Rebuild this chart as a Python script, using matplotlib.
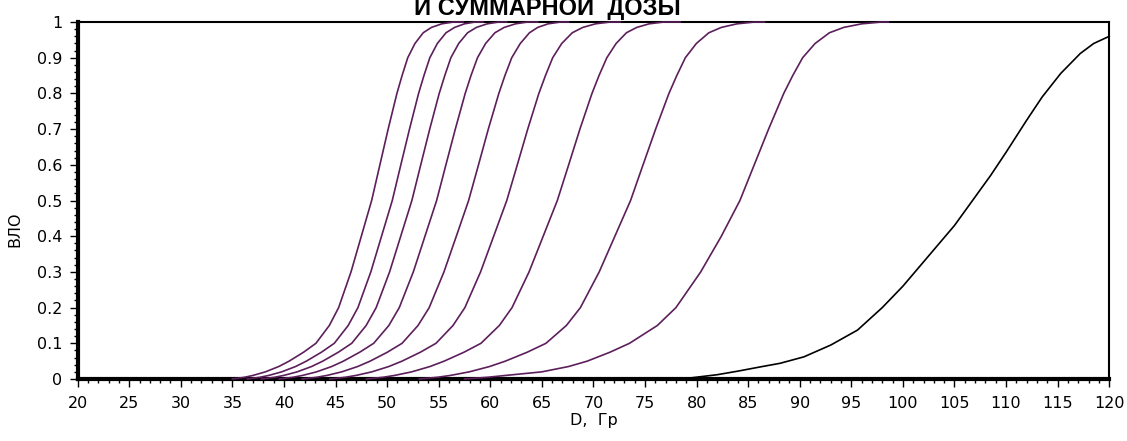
import matplotlib.pyplot as plt
from matplotlib.ticker import MultipleLocator

# probability levels (ВЛО) and the dose (Гр) at which each purple curve reaches them
levels = [0, 0.005, 0.01, 0.02, 0.035, 0.05, 0.075, 0.1, 0.15, 0.2, 0.3, 0.4, 0.5,
	0.6, 0.7, 0.8, 0.85, 0.9, 0.94, 0.97, 0.985, 0.995, 1.0, 1.0]

dose_c1 = [35.0, 36.2, 37.0, 38.2, 39.5, 40.5, 41.9, 43.1, 44.4, 45.3, 46.5, 47.5, 48.5,
	49.3, 50.1, 50.95, 51.45, 52.0, 52.7, 53.5, 54.3, 55.3, 56.4, 57.4]
dose_c2 = [36.45, 37.7, 38.53, 39.78, 41.13, 42.17, 43.63, 44.88, 46.23, 47.17, 48.42, 49.46, 50.5,
	51.33, 52.17, 53.05, 53.57, 54.14, 54.87, 55.71, 56.54, 57.5, 58.5, 59.3]
dose_c3 = [37.82, 39.12, 39.98, 41.28, 42.68, 43.76, 45.27, 46.57, 47.97, 48.94, 50.24, 51.32, 52.4,
	53.26, 54.13, 55.05, 55.59, 56.18, 56.94, 57.8, 58.66, 59.7, 60.8, 61.6]
dose_c4 = [39.54, 40.9, 41.8, 43.16, 44.63, 45.76, 47.34, 48.7, 50.17, 51.18, 52.54, 53.67, 54.8,
	55.7, 56.61, 57.57, 58.13, 58.76, 59.55, 60.45, 61.35, 62.45, 63.6, 64.6]
dose_c5 = [41.78, 43.21, 44.17, 45.6, 47.15, 48.35, 50.02, 51.45, 53.0, 54.08, 55.51, 56.71, 57.9,
	58.86, 59.81, 60.83, 61.42, 62.08, 62.91, 63.8, 64.6, 65.6, 66.8, 67.6]
dose_c6 = [44.45, 45.98, 46.99, 48.52, 50.17, 51.44, 53.22, 54.74, 56.39, 57.54, 59.06, 60.33, 61.6,
	62.62, 63.63, 64.71, 65.35, 66.05, 66.93, 67.95, 68.97, 70.2, 71.6, 72.6]
dose_c7 = [47.99, 49.64, 50.73, 52.38, 54.16, 55.53, 57.45, 59.1, 60.88, 62.11, 63.76, 65.13, 66.5,
	67.6, 68.69, 69.86, 70.54, 71.3, 72.2, 73.2, 74.2, 75.4, 76.8, 78.4]
dose_c8 = [53.11, 54.93, 56.14, 57.96, 59.94, 61.46, 63.58, 65.4, 67.38, 68.74, 70.56, 72.08, 73.6,
	74.81, 76.03, 77.32, 78.08, 78.91, 79.98, 81.19, 82.4, 83.92, 85.6, 86.6]
dose_c9 = [57.5, 59.8, 61.5, 65.0, 67.6, 69.4, 71.6, 73.5, 76.2, 78.0, 80.4, 82.4, 84.2,
	85.59, 86.98, 88.45, 89.32, 90.28, 91.49, 92.88, 94.27, 96.0, 97.9, 98.6]

# last curve (black), read point by point
dose_k = [76.5, 79.4, 82.0, 84.0, 86.2, 88.1, 90.4, 93.0, 95.6, 98.0, 100.0, 102.5, 105.0,
	107.0, 108.5, 110.0, 111.0, 112.0, 113.5, 115.3, 117.2, 118.5, 120.0]
vlo_k = [0.0, 0.003, 0.012, 0.022, 0.034, 0.044, 0.062, 0.095, 0.137, 0.2, 0.26, 0.345, 0.43,
	0.51, 0.57, 0.635, 0.68, 0.725, 0.79, 0.856, 0.912, 0.94, 0.96]

purple_curves = [dose_c1, dose_c2, dose_c3, dose_c4, dose_c5, dose_c6, dose_c7, dose_c8, dose_c9]

fig = plt.figure(figsize=(11.27, 4.41), dpi=100)
ax = fig.add_axes([0.0689, 0.1406, 0.9153, 0.8094])

for d in purple_curves:
	ax.plot(d, levels, color='#5c1f5c', lw=1.2, clip_on=False, zorder=3)
ax.plot(dose_k, vlo_k, color='black', lw=1.2, clip_on=False, zorder=3)

ax.set_xlim(20, 120)
ax.set_ylim(0, 1)
ax.xaxis.set_major_locator(MultipleLocator(5))
ax.xaxis.set_minor_locator(MultipleLocator(1))
ax.yaxis.set_minor_locator(MultipleLocator(0.02))
ax.set_yticks([0, 0.1, 0.2, 0.3, 0.4, 0.5, 0.6, 0.7, 0.8, 0.9, 1.0])
ax.set_yticklabels(['0', '0.1', '0.2', '0.3', '0.4', '0.5', '0.6', '0.7', '0.8', '0.9', '1'])

ax.tick_params(axis='both', which='major', direction='out', length=6, width=1, labelsize=11.5, pad=5)
ax.tick_params(axis='both', which='minor', direction='out', length=3, width=1)
ax.tick_params(axis='x', which='major', pad=6)

ax.spines['left'].set_linewidth(3)
ax.spines['bottom'].set_linewidth(3)
ax.spines['top'].set_linewidth(1.5)
ax.spines['right'].set_linewidth(1.5)

ax.set_xlabel('D,  Гр', fontsize=11.5, labelpad=2)
ax.set_ylabel('ВЛО', fontsize=11.5)
ax.yaxis.set_label_coords(-0.054, 0.42)

# second line of the title; the first line lies above the picture
fig.text(0.486, 0.966, 'И СУММАРНОЙ  ДОЗЫ', ha='center', va='baseline',
	fontsize=17, fontweight='bold', family='Liberation Sans')

fig.savefig('out.png', dpi=100)
